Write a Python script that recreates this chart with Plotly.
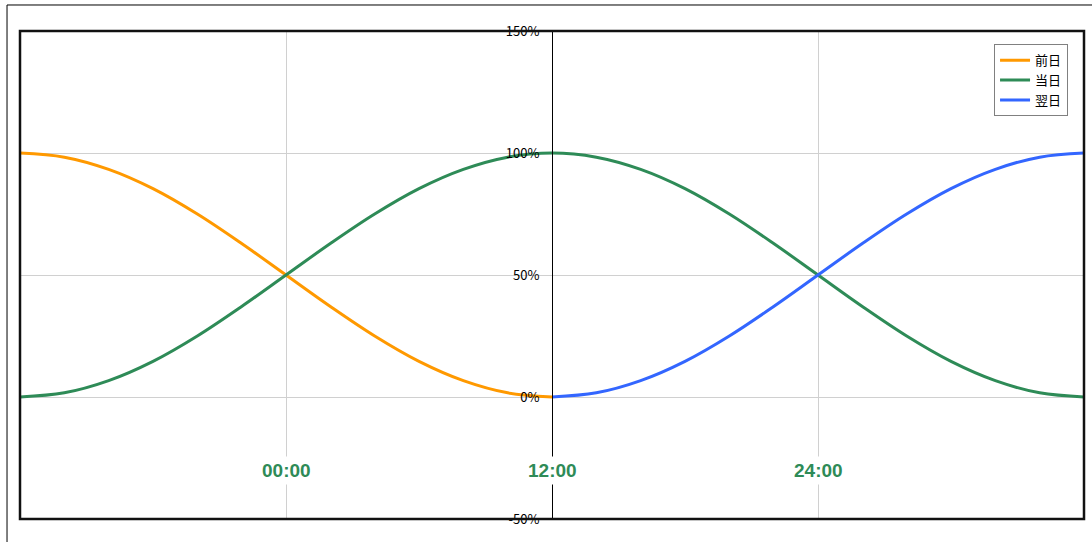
import plotly.graph_objects as go

# hours (relative to 00:00 of the current day)
hours_prev = [-12, -10, -8, -6, -4, -2, 0, 2, 4, 6, 8, 10, 12]
vals_prev = [100, 98.3, 93.3, 85.4, 75, 62.9, 50, 37.1, 25, 14.6, 6.7, 1.7, 0]

hours_today = [-12, -10, -8, -6, -4, -2, 0, 2, 4, 6, 8, 10, 12,
               14, 16, 18, 20, 22, 24, 26, 28, 30, 32, 34, 36]
vals_today = [0, 1.7, 6.7, 14.6, 25, 37.1, 50, 62.9, 75, 85.4, 93.3, 98.3, 100,
              98.3, 93.3, 85.4, 75, 62.9, 50, 37.1, 25, 14.6, 6.7, 1.7, 0]

hours_next = [12, 14, 16, 18, 20, 22, 24, 26, 28, 30, 32, 34, 36]
vals_next = [0, 1.7, 6.7, 14.6, 25, 37.1, 50, 62.9, 75, 85.4, 93.3, 98.3, 100]

x_ticks = [0, 12, 24]
x_labels = ["00:00", "12:00", "24:00"]
y_ticks = [-50, 0, 50, 100, 150]

fig = go.Figure()
fig.add_trace(go.Scatter(x=hours_prev, y=vals_prev, name="前日", mode="lines",
                         line=dict(color="#FF9900", width=3, shape="spline")))
fig.add_trace(go.Scatter(x=hours_today, y=vals_today, name="当日", mode="lines",
                         line=dict(color="#2E8B57", width=3, shape="spline")))
fig.add_trace(go.Scatter(x=hours_next, y=vals_next, name="翌日", mode="lines",
                         line=dict(color="#3366FF", width=3, shape="spline")))

for xv, lab in zip(x_ticks, x_labels):
    fig.add_annotation(x=xv, y=-30, text="<b>%s</b>" % lab, showarrow=False,
                       xref="x", yref="y", bgcolor="white", borderpad=3,
                       font=dict(family="Liberation Sans", size=19, color="#2E8B57"))

fig.update_layout(
    width=1092, height=542,
    margin=dict(l=20, r=8, t=31, b=23),
    paper_bgcolor="white", plot_bgcolor="white",
    font=dict(family="Noto Sans CJK JP", size=12, color="black"),
    xaxis=dict(range=[-12, 36], tickvals=[0, 24], showticklabels=False,
               showgrid=True, gridcolor="#D0D0D0", gridwidth=1, zeroline=False,
               ticks="", showline=False, fixedrange=True),
    yaxis=dict(range=[-50, 150], tickvals=y_ticks,
               ticktext=["%d%%" % v for v in y_ticks],
               anchor="free", position=0.5, showline=True, linecolor="black",
               linewidth=1, showgrid=True, gridcolor="#D0D0D0", gridwidth=1,
               zeroline=False, ticks="", ticklabelstandoff=10,
               tickfont=dict(family="Noto Sans CJK JP", size=13, color="black")),
    showlegend=True,
    legend=dict(x=0.985, y=0.973, xanchor="right", yanchor="top",
                bgcolor="white", bordercolor="#808080", borderwidth=1,
                font=dict(family="Noto Sans CJK JP", size=13, color="black"),
                tracegroupgap=0, itemwidth=30),
)

# plot-area frame
fig.add_shape(type="rect", xref="paper", yref="paper", x0=0, x1=1, y0=0, y1=1,
              line=dict(color="#111111", width=2.5), layer="above")
# outer chart frame (top and left edges visible)
fig.add_shape(type="line", xref="paper", yref="paper", x0=-0.0122, x1=1.01,
              y0=1.0533, y1=1.0533, line=dict(color="black", width=1))
fig.add_shape(type="line", xref="paper", yref="paper", x0=-0.0122, x1=-0.0122,
              y0=-0.06, y1=1.0533, line=dict(color="black", width=1))

fig.write_html("out.html")
